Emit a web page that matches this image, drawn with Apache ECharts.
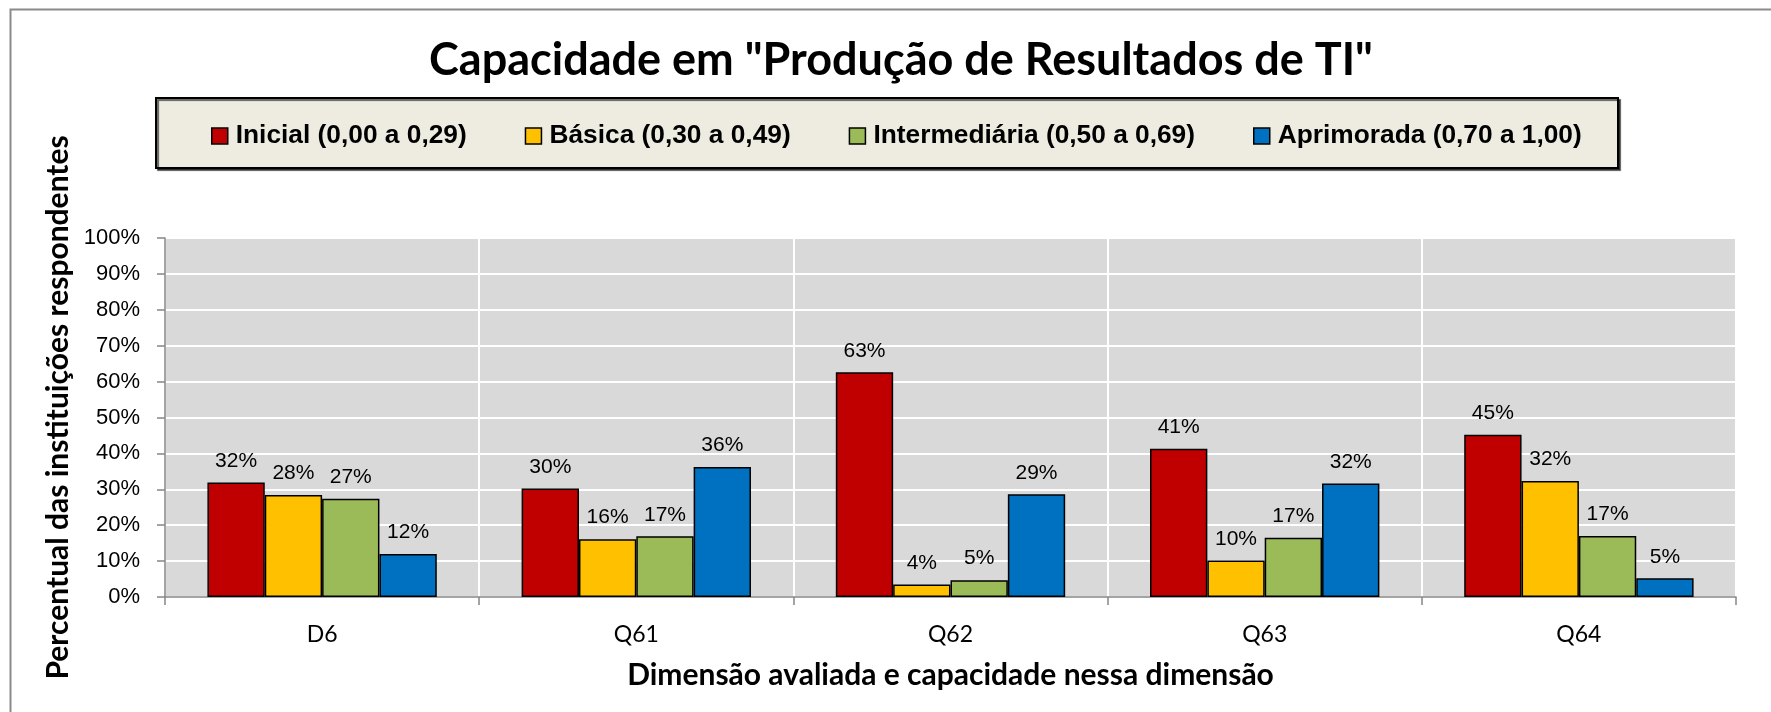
<!DOCTYPE html>
<html>
<head>
<meta charset="utf-8">
<script src="https://cdn.jsdelivr.net/npm/echarts@6/dist/echarts.min.js"></script>
<style>
html,body{margin:0;padding:0;background:#fff;}
#c{width:1771px;height:712px;}
</style>
</head>
<body>
<div id="c"></div>
<script>
var categories = ['D6', 'Q61', 'Q62', 'Q63', 'Q64'];
var seriesNames = ['Inicial (0,00 a 0,29)', 'Básica (0,30 a 0,49)', 'Intermediária (0,50 a 0,69)', 'Aprimorada (0,70 a 1,00)'];
var inicial = [31.9, 30.2, 62.6, 41.3, 45.2];
var basica = [28.4, 16.1, 3.5, 10.2, 32.3];
var intermediaria = [27.4, 16.9, 4.7, 16.5, 17.0];
var aprimorada = [12.0, 36.2, 28.6, 31.6, 5.2];
var yTicks = [0, 10, 20, 30, 40, 50, 60, 70, 80, 90, 100];
var colors = ['#C00000', '#FFC000', '#9BBB59', '#0070C0'];

var chart = echarts.init(document.getElementById('c'));
var calibri = "Lato, 'Open Sans', sans-serif";
var arial = "'Liberation Sans', Arial, sans-serif";

function mk(name, data, i) {
  return {
    name: name, type: 'bar', data: data,
    barGap: '0%', barCategoryGap: '27%',
    itemStyle: { color: colors[i], borderColor: '#000', borderWidth: 1.5 },
    label: {
      show: true, position: 'top', distance: 11,
      fontFamily: arial, fontSize: 21, color: '#000',
      formatter: function (p) { return Math.round(p.value) + '%'; }
    }
  };
}

chart.setOption({
  animation: false,
  backgroundColor: '#fff',
  title: {
    text: 'Capacidade em "Produção de Resultados de TI"',
    left: 896, top: 33, textAlign: 'center',
    textStyle: { fontFamily: calibri, fontWeight: 'bold', fontSize: 45, color: '#000' }
  },
  graphic: [
    { type: 'rect', left: 8, top: 7, z: -10, shape: { width: 1800, height: 800 },
      style: { fill: 'none', stroke: '#8a8a8a', lineWidth: 2 } },
    { type: 'rect', left: 155, top: 97, z: -5, shape: { width: 1462, height: 70 },
      style: { fill: '#EEECE1', stroke: '#000', lineWidth: 2,
               shadowColor: 'rgba(0,0,0,0.6)', shadowOffsetX: 2, shadowOffsetY: 2, shadowBlur: 1 } }
  ],
  legend: {
    data: seriesNames, left: 211, top: 123, padding: 0,
    itemWidth: 16, itemHeight: 16, itemGap: 58,
    icon: 'rect',
    itemStyle: { borderColor: '#000', borderWidth: 1.5 },
    textStyle: { fontFamily: arial, fontWeight: 'bold', fontSize: 26.3, color: '#000', padding: [0, 0, 0, 3] }
  },
  grid: {
    left: 165, top: 238, right: 35, height: 359,
    show: true, backgroundColor: '#D9D9D9', borderWidth: 0, containLabel: false
  },
  xAxis: {
    type: 'category', data: categories,
    name: 'Dimensão avaliada e capacidade nessa dimensão',
    nameLocation: 'middle', nameGap: 63,
    nameTextStyle: { fontFamily: calibri, fontWeight: 'bold', fontSize: 30, color: '#000' },
    axisLine: { lineStyle: { color: '#868686', width: 1.5 } },
    axisTick: { show: true, length: 8, alignWithLabel: false, lineStyle: { color: '#868686', width: 1.5 } },
    axisLabel: { fontFamily: calibri, fontSize: 23, color: '#000', margin: 26 },
    splitLine: { show: true, interval: 0, lineStyle: { color: '#ffffff', width: 2 } }
  },
  yAxis: {
    type: 'value', min: 0, max: 100, interval: 10,
    name: 'Percentual das instituições respondentes',
    nameLocation: 'middle', nameGap: 91, nameRotate: 90,
    nameTextStyle: { fontFamily: calibri, fontWeight: 'bold', fontSize: 30, color: '#000', padding: [0, 0, 0, 20] },
    axisLine: { show: true, lineStyle: { color: '#868686', width: 1.5 } },
    axisTick: { show: true, length: 8, lineStyle: { color: '#868686', width: 1.5 } },
    axisLabel: { fontFamily: arial, fontSize: 22, color: '#000', margin: 25,
      formatter: function (v) { return yTicks.indexOf(v) >= 0 ? v + '%' : ''; } },
    splitLine: { show: true, lineStyle: { color: '#ffffff', width: 2 } }
  },
  series: [mk(seriesNames[0], inicial, 0), mk(seriesNames[1], basica, 1),
           mk(seriesNames[2], intermediaria, 2), mk(seriesNames[3], aprimorada, 3)]
});
</script>
</body>
</html>
